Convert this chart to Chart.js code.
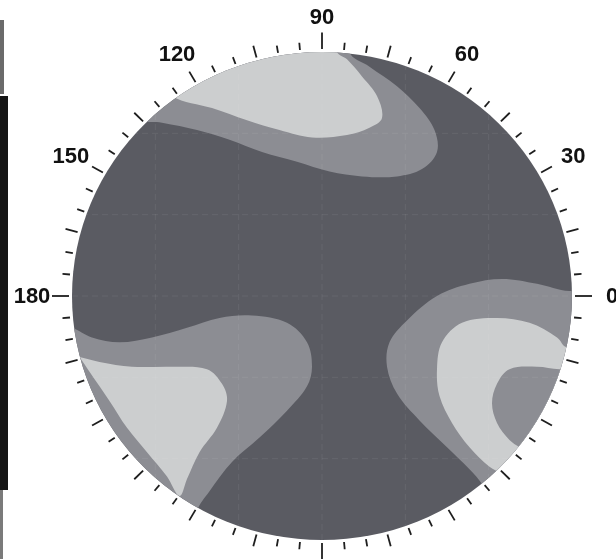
<!DOCTYPE html>
<html>
<head>
<meta charset="utf-8">
<script src="https://cdn.jsdelivr.net/npm/chart.js@4.4.1/dist/chart.umd.min.js"></script>
<style>
  body { margin: 0; background: #fff; }
  #wrap { position: relative; width: 616px; height: 559px; overflow: hidden; }
  .edge { position: absolute; }
</style>
</head>
<body>
<div id="wrap">
  <canvas id="canvas" width="616" height="559"></canvas>
  <div class="edge" style="left:0;top:20px;width:4px;height:74px;background:#6b6b6b"></div>
  <div class="edge" style="left:0;top:96px;width:8px;height:394px;background:#151515"></div>
  <div class="edge" style="left:0;top:490px;width:3px;height:69px;background:#7a7a7a"></div>
</div>
<script>
// angle labels around the pole figure (degrees)
const labelAngles = [0, 30, 60, 90, 120, 150, 180];
const labelTexts = ['0', '30', '60', '90', '120', '150', '180'];
const gridVals = [-2/3, -1/3, 0, 1/3, 2/3];

// contour levels, boundaries (unit circle coords)
const baseLevel = [[-1.3,-1.3],[1.3,-1.3],[1.3,1.3],[-1.3,1.3],[-1.3,-1.3]];

const topMid = [[-0.85,1.2],[-0.81,0.80],[-0.72,0.72],[-0.64,0.71],[-0.50,0.68],[-0.37,0.64],
  [-0.24,0.59],[-0.10,0.55],[0.03,0.51],[0.16,0.49],[0.30,0.49],[0.40,0.52],[0.46,0.59],
  [0.45,0.68],[0.39,0.77],[0.30,0.86],[0.19,0.94],[0.11,1.00],[0.12,1.2],[-0.85,1.2]];

const topLight = [[-0.7,1.2],[-0.69,0.93],[-0.60,0.82],[-0.44,0.77],[-0.30,0.72],[-0.17,0.68],
  [-0.04,0.65],[0.10,0.66],[0.19,0.69],[0.24,0.73],[0.22,0.82],[0.16,0.90],[0.10,0.97],
  [0.06,1.00],[0.05,1.09],[0.05,1.2],[-0.7,1.2]];

const leftMid = [[-1.2,-0.1],[-1.13,-0.10],[-1.00,-0.13],[-0.92,-0.17],[-0.81,-0.19],[-0.68,-0.17],
  [-0.54,-0.13],[-0.41,-0.09],[-0.28,-0.08],[-0.14,-0.11],[-0.06,-0.19],[-0.04,-0.29],
  [-0.06,-0.37],[-0.14,-0.47],[-0.25,-0.58],[-0.36,-0.68],[-0.45,-0.80],[-0.50,-0.88],
  [-0.55,-1.1],[-1.2,-1.1],[-1.2,-0.1]];

const leftLight = [[-0.97,-0.25],[-0.89,-0.27],[-0.76,-0.29],[-0.60,-0.29],[-0.46,-0.30],
  [-0.40,-0.36],[-0.38,-0.43],[-0.42,-0.54],[-0.49,-0.64],[-0.54,-0.75],[-0.57,-0.82],
  [-0.62,-0.74],[-0.70,-0.64],[-0.78,-0.54],[-0.85,-0.43],[-0.93,-0.31],[-0.97,-0.25]];

const rightMid = [[1.2,0.03],[0.99,0.02],[0.86,0.05],[0.72,0.07],[0.59,0.05],[0.46,0.00],
  [0.34,-0.10],[0.27,-0.19],[0.26,-0.29],[0.30,-0.40],[0.39,-0.51],[0.50,-0.62],
  [0.59,-0.71],[0.64,-0.77],[0.72,-0.9],[1.2,-0.9],[1.2,0.03]];

const rightLight = [[1.2,-0.2],[0.98,-0.21],[0.94,-0.17],[0.83,-0.11],[0.70,-0.09],[0.56,-0.11],
  [0.48,-0.19],[0.46,-0.30],[0.47,-0.41],[0.52,-0.52],[0.59,-0.62],[0.67,-0.70],
  [0.72,-0.73],[0.8,-0.8],[1.2,-0.6],[1.2,-0.2]];

const rightSpot = [[1.2,-0.3],[0.95,-0.30],[0.86,-0.29],[0.75,-0.30],[0.70,-0.36],[0.68,-0.44],
  [0.70,-0.52],[0.75,-0.59],[0.79,-0.62],[0.9,-0.7],[1.2,-0.5],[1.2,-0.3]];

const dark = 'rgb(90,91,98)';
const mid = 'rgb(140,141,147)';
const light = 'rgb(204,206,207)';

function toPts(arr) {
    return arr.map(p => ({x: p[0], y: p[1]}));
}

function level(arr, color, order, tension) {
    return {
        data: toPts(arr),
        backgroundColor: color,
        borderWidth: 0,
        pointRadius: 0,
        fill: 'shape',
        tension: tension,
        order: order
    };
}

// clip contours to the circle, then ticks + labels
const poleFigure = {
    id: 'poleFigure',
    beforeDatasetsDraw(chart) {
        const {ctx, scales: {x, y}} = chart;
        const cx = x.getPixelForValue(0), cy = y.getPixelForValue(0);
        const rx = x.getPixelForValue(1) - cx, ry = cy - y.getPixelForValue(1);
        ctx.save();
        ctx.beginPath();
        ctx.ellipse(cx, cy, rx, ry, 0, 0, Math.PI * 2);
        ctx.clip();
    },
    afterDatasetsDraw(chart) {
        const {ctx, scales: {x, y}} = chart;
        // faint grid
        ctx.strokeStyle = 'rgba(255,255,255,0.07)';
        ctx.lineWidth = 1;
        ctx.setLineDash([6, 4]);
        for (let v of gridVals) {
            ctx.beginPath();
            ctx.moveTo(x.getPixelForValue(v), y.getPixelForValue(-1));
            ctx.lineTo(x.getPixelForValue(v), y.getPixelForValue(1));
            ctx.moveTo(x.getPixelForValue(-1), y.getPixelForValue(v));
            ctx.lineTo(x.getPixelForValue(1), y.getPixelForValue(v));
            ctx.stroke();
        }
        ctx.setLineDash([]);
        ctx.restore();
    },
    afterDraw(chart) {
        const {ctx, scales: {x, y}} = chart;
        ctx.save();
        ctx.strokeStyle = '#1e1e1e';
        ctx.lineWidth = 1.8;
        for (let a = 0; a < 360; a += 5) {
            const t = a * Math.PI / 180;
            const r1 = 1.012;
            const r2 = (a % 90 === 0) ? 1.08 : (a % 15 === 0) ? 1.062 : 1.042;
            ctx.beginPath();
            ctx.moveTo(x.getPixelForValue(Math.cos(t) * r1), y.getPixelForValue(Math.sin(t) * r1));
            ctx.lineTo(x.getPixelForValue(Math.cos(t) * r2), y.getPixelForValue(Math.sin(t) * r2));
            ctx.stroke();
        }
        ctx.fillStyle = '#111';
        ctx.font = 'bold 22px "Liberation Sans", Arial, sans-serif';
        ctx.textAlign = 'center';
        ctx.textBaseline = 'middle';
        labelAngles.forEach((a, i) => {
            const t = a * Math.PI / 180;
            const px = x.getPixelForValue(Math.cos(t) * 1.16);
            const py = y.getPixelForValue(Math.sin(t) * 1.145) + 1;
            ctx.fillText(labelTexts[i], px, py);
        });
        ctx.restore();
    }
};

new Chart(document.getElementById('canvas'), {
    type: 'line',
    data: {
        datasets: [
            level(baseLevel, dark, 10, 0),
            level(topMid, mid, 8, 0.35),
            level(topLight, light, 7, 0.35),
            level(leftMid, mid, 8, 0.35),
            level(leftLight, light, 7, 0.35),
            level(rightMid, mid, 8, 0.35),
            level(rightLight, light, 7, 0.35),
            level(rightSpot, mid, 6, 0.35)
        ]
    },
    options: {
        responsive: false,
        animation: false,
        devicePixelRatio: 1,
        layout: {padding: {left: 72, right: 44, top: 52, bottom: 19}},
        elements: {line: {capBezierPoints: false}},
        plugins: {
            legend: {display: false},
            tooltip: {enabled: false}
        },
        scales: {
            x: {type: 'linear', min: -1, max: 1, display: false},
            y: {type: 'linear', min: -1, max: 1, display: false}
        }
    },
    plugins: [poleFigure]
});
</script>
</body>
</html>
